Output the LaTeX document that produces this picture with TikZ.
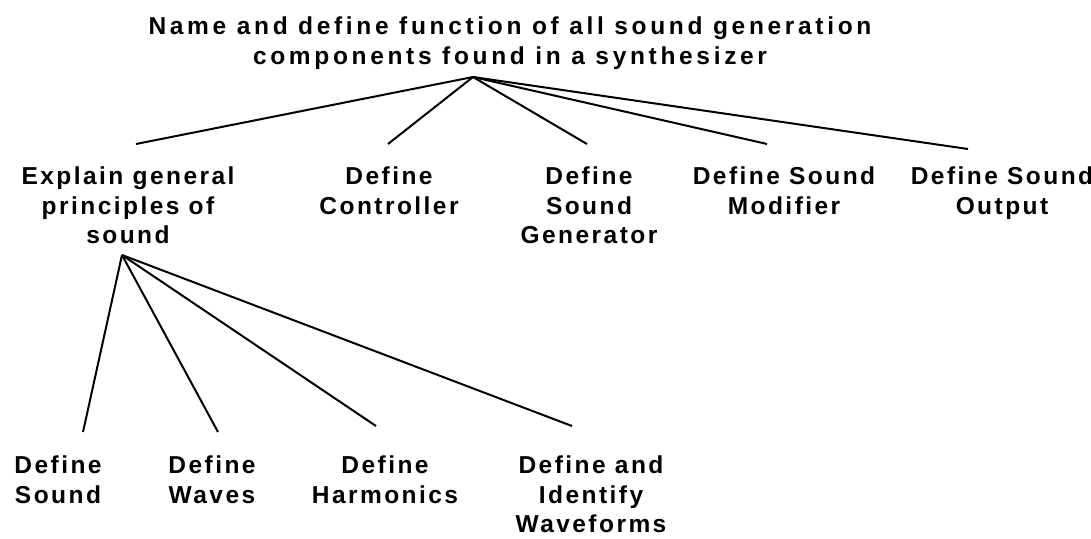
\documentclass[tikz,border=0pt]{standalone}
\usepackage{fontspec}
\newfontfamily\lblfont[LetterSpace=10]{Liberation Sans Bold}
\newfontfamily\goalfont[LetterSpace=15]{Liberation Sans Bold}
\usepackage{tikz}

\begin{document}
\begin{tikzpicture}[x=1pt,y=-1pt,
  lbl/.style={anchor=north, inner sep=0pt, align=center,
    font=\lblfont\fontsize{24.5}{29.5}\selectfont},
  branch/.style={line width=2pt}]
\useasboundingbox (0,0) rectangle (1091,538);
\clip (0,0) rectangle (1091,538);
%%% Draws top goal
\node[lbl, font=\goalfont\fontsize{24.5}{29.5}\selectfont] (goal) at (510,17) {Name and define function of all sound generation\\components found in a synthesizer};
\coordinate (goalfoot) at (473,77);
%%% Draws second level
% labels
\node[lbl] (principles) at (128,167) {Explain general\\principles of\\sound};
\node[lbl] (controller) at (389,167) {Define\\Controller};
\node[lbl] (generator) at (589,167) {Define\\Sound\\Generator};
\node[lbl] (modifier) at (784,167) {Define Sound\\Modifier};
\node[lbl] (output) at (1002,167) {Define Sound\\Output};
% ends of edges
\coordinate (principlestop) at (136,144);
\coordinate (controllertop) at (388,144);
\coordinate (generatortop) at (587,144);
\coordinate (modifiertop) at (767,144);
\coordinate (outputtop) at (968,149);
% draws edges
\draw[branch] (goalfoot) to (principlestop);
\draw[branch] (goalfoot) to (controllertop);
\draw[branch] (goalfoot) to (generatortop);
\draw[branch] (goalfoot) to (modifiertop);
\draw[branch] (goalfoot) to (outputtop);
%%% Draws third level
% labels
\node[lbl] (sound) at (58,456) {Define\\Sound};
\node[lbl] (waves) at (212,456) {Define\\Waves};
\node[lbl] (harmonics) at (385,456) {Define\\Harmonics};
\node[lbl] (waveforms) at (591,456) {Define and\\Identify\\Waveforms};
% ends of edges
\coordinate (principlesfoot) at (122,255);
\coordinate (soundtop) at (83,432);
\coordinate (wavestop) at (218,432);
\coordinate (harmonicstop) at (376,426);
\coordinate (waveformstop) at (572,426);
% draws edges
\draw[branch] (principlesfoot) to (soundtop);
\draw[branch] (principlesfoot) to (wavestop);
\draw[branch] (principlesfoot) to (harmonicstop);
\draw[branch] (principlesfoot) to (waveformstop);
\end{tikzpicture}
\end{document}
